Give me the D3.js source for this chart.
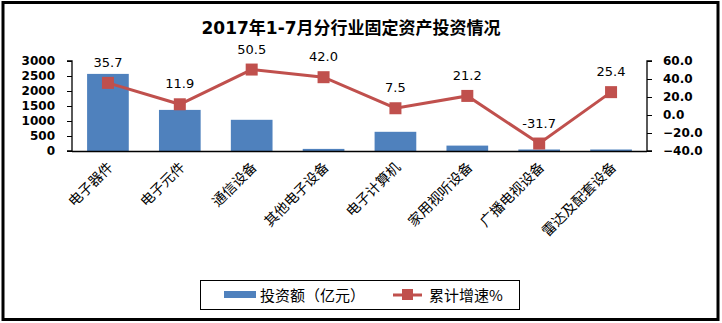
<!DOCTYPE html>
<html><head><meta charset="utf-8">
<script src="https://cdn.jsdelivr.net/npm/d3@7"></script>
<style>body{margin:0;background:#fff;} svg{display:block;}</style>
</head><body>
<script>
const categories = ["电子器件","电子元件","通信设备","其他电子设备","电子计算机","家用视听设备","广播电视设备","雷达及配套设备"];
const investment = [2570, 1370, 1040, 70, 640, 180, 50, 50];
const growth = [35.7, 11.9, 50.5, 42.0, 7.5, 21.2, -31.7, 25.4];
const leftTicks = [0, 500, 1000, 1500, 2000, 2500, 3000];
const rightTicks = [-40, -20, 0, 20, 40, 60];
const title = "2017年1-7月分行业固定资产投资情况";
const legendLabels = ["投资额（亿元）", "累计增速%"];

const W = 722, H = 323;
const svg = d3.select("body").append("svg").attr("width", W).attr("height", H);
svg.append("rect").attr("x",3).attr("y",2.5).attr("width",715).attr("height",317)
  .attr("fill","#fff").attr("stroke","#000").attr("stroke-width",3);

const plot = {l:72, r:647, t:61, b:151};
const x = d3.scaleBand().domain(categories).range([plot.l, plot.r]).paddingInner(0.42).paddingOuter(0.21);
const xc = d3.scaleBand().domain(categories).range([plot.l, plot.r]);
const yL = d3.scaleLinear().domain([0,3000]).range([plot.b, plot.t]);
const yR = d3.scaleLinear().domain([-40,60]).range([plot.b, plot.t]);

svg.append("text").attr("x",351).attr("y",34).attr("text-anchor","middle")
  .attr("font-family","'DejaVu Sans', 'Noto Sans CJK SC', sans-serif").attr("font-weight","bold")
  .attr("font-size",17).text(title);

// bars
svg.selectAll("rect.bar").data(investment).enter().append("rect").attr("class","bar")
  .attr("x",(d,i)=>x(categories[i])).attr("width",x.bandwidth())
  .attr("y",d=>yL(d)).attr("height",d=>plot.b-yL(d)).attr("fill","#4F81BD");

// axes
const axL = svg.append("g").attr("transform",`translate(${plot.l},0)`)
  .call(d3.axisLeft(yL).tickValues(leftTicks).tickSize(5).tickPadding(12).tickFormat(d3.format("d")));
const axR = svg.append("g").attr("transform",`translate(${plot.r},0)`)
  .call(d3.axisRight(yR).tickValues(rightTicks).tickSize(5).tickPadding(11).tickFormat(d3.format(".1f")));
[axL, axR].forEach(a=>{
  a.select(".domain").attr("stroke","#000").attr("stroke-width",1.3);
  a.selectAll(".tick line").attr("stroke","#000");
  a.selectAll("text").attr("font-family","'DejaVu Sans', sans-serif").attr("font-weight","bold")
    .attr("font-size",12).attr("fill","#000");
});
axL.select(".domain").attr("d",`M-5,${plot.t}H0V${plot.b}H-5`);
axR.select(".domain").attr("d",`M5,${plot.t}H0V${plot.b}H5`);
svg.append("line").attr("x1",plot.l).attr("x2",plot.r).attr("y1",plot.b+0.5).attr("y2",plot.b+0.5)
  .attr("stroke","#000").attr("stroke-width",1.3);

// line
const cx = c => xc(c) + xc.bandwidth()/2;
const line = d3.line().x((d,i)=>cx(categories[i])).y(d=>yR(d));
svg.append("path").datum(growth).attr("d",line).attr("fill","none")
  .attr("stroke","#C0504D").attr("stroke-width",3);
svg.selectAll("rect.mk").data(growth).enter().append("rect").attr("class","mk")
  .attr("x",(d,i)=>cx(categories[i])-6).attr("y",d=>yR(d)-6).attr("width",12).attr("height",12)
  .attr("fill","#C0504D");
svg.selectAll("text.lbl").data(growth).enter().append("text").attr("class","lbl")
  .attr("x",(d,i)=>cx(categories[i])).attr("y",d=>yR(d)-16).attr("text-anchor","middle")
  .attr("font-family","'DejaVu Sans', sans-serif").attr("font-size",13).attr("fill","#000")
  .text(d=>d.toFixed(1));

// category labels
svg.selectAll("text.cat").data(categories).enter().append("text").attr("class","cat")
  .attr("transform",c=>`translate(${cx(c)+6},${plot.b+17}) rotate(-45)`)
  .attr("text-anchor","end").attr("font-family","'Noto Sans CJK SC', sans-serif")
  .attr("font-size",14).attr("fill","#000").text(c=>c);

// legend
const lg = svg.append("g");
lg.append("rect").attr("x",200.5).attr("y",280.5).attr("width",319).attr("height",29)
  .attr("fill","#fff").attr("stroke","#000").attr("stroke-width",1);
lg.append("rect").attr("x",224).attr("y",291).attr("width",32).attr("height",7).attr("fill","#4F81BD");
lg.append("text").attr("x",260).attr("y",301).attr("font-family","'Noto Sans CJK SC', sans-serif")
  .attr("font-size",15).text(legendLabels[0]);
lg.append("line").attr("x1",393).attr("x2",422).attr("y1",295).attr("y2",295)
  .attr("stroke","#C0504D").attr("stroke-width",3);
lg.append("rect").attr("x",402).attr("y",289).attr("width",11).attr("height",11).attr("fill","#C0504D");
lg.append("text").attr("x",429).attr("y",301).attr("font-family","'Noto Sans CJK SC', sans-serif")
  .attr("font-size",15).text(legendLabels[1]);
</script>
</body></html>
